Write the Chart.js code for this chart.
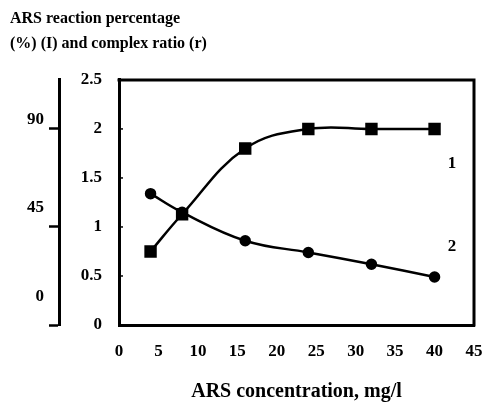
<!DOCTYPE html>
<html>
<head>
<meta charset="utf-8">
<script src="https://cdn.jsdelivr.net/npm/chart.js@4"></script>
<style>
  html, body { margin: 0; padding: 0; background: #fff; }
  #wrap { width: 487px; height: 409px; position: relative; }
</style>
</head>
<body>
<div id="wrap"><canvas id="chart"></canvas></div>
<script>
// ── Data ─────────────────────────────────
const concentration = [4, 8, 16, 24, 32, 40];           // ARS, mg/l
const reactionCurve = [0.75, 1.13, 1.8, 2.0, 2.0, 2.0]; // curve 1
const complexRatio  = [1.34, 1.15, 0.86, 0.74, 0.62, 0.49]; // curve 2
const xTicks        = [0, 5, 10, 15, 20, 25, 30, 35, 40, 45];
const ratioTicks    = [0, 0.5, 1, 1.5, 2, 2.5];
const percentTicks  = [0, 45, 90];
const curveNames    = ['1', '2'];
const curveNameAt   = [[42.2, 1.65], [42.2, 0.8]];      // in data units

const SERIF = '"Liberation Serif", "Times New Roman", serif';
const INK = '#000';

const toPoints = ys => concentration.map((x, i) => ({ x, y: ys[i] }));

// ── Frame + inner ticks + curve numbers ──
const framePlugin = {
    id: 'frame',
    afterDraw(chart) {
        const { ctx, chartArea: a, scales } = chart;
        ctx.save();
        ctx.strokeStyle = INK;
        ctx.lineWidth = 3;
        ctx.beginPath();
        ctx.moveTo(a.left - 1.5, a.top);
        ctx.lineTo(a.right, a.top);
        ctx.lineTo(a.right, a.bottom + 1.5);
        ctx.stroke();

        ctx.lineWidth = 1.5;
        ratioTicks.slice(1, -1).forEach(v => {
            const py = scales.y.getPixelForValue(v);
            ctx.beginPath();
            ctx.moveTo(a.left, py);
            ctx.lineTo(a.left + 4, py);
            ctx.stroke();
        });

        ctx.fillStyle = INK;
        ctx.font = 'bold 17px ' + SERIF;
        ctx.textAlign = 'center';
        ctx.textBaseline = 'middle';
        curveNames.forEach((t, i) => {
            const [vx, vy] = curveNameAt[i];
            ctx.fillText(t, scales.x.getPixelForValue(vx), scales.y.getPixelForValue(vy));
        });
        ctx.restore();
    }
};

const lineStyle = {
    borderColor: INK,
    backgroundColor: INK,
    borderWidth: 2.5,
    pointBackgroundColor: INK,
    pointBorderColor: INK,
    tension: 0.4,
    fill: false
};

const tickFont = { family: SERIF, size: 17, weight: 'bold' };

// labels on the outer % axis sit above their tick marks, more so lower down
const percentLabel = v => [String(v)].concat(Array(percentTicks.length - percentTicks.indexOf(v)).fill(''));

new Chart(document.getElementById('chart'), {
    type: 'line',
    data: {
        datasets: [
            { ...lineStyle, label: '1', data: toPoints(reactionCurve), pointStyle: 'rect', pointRadius: 7 },
            { ...lineStyle, label: '2', data: toPoints(complexRatio),  pointStyle: 'circle', pointRadius: 4.5 }
        ]
    },
    options: {
        responsive: true,
        maintainAspectRatio: false,
        devicePixelRatio: 1,
        animation: false,
        layout: { padding: { left: 10, right: 0, top: 0, bottom: 0 } },
        plugins: {
            legend: { display: false },
            tooltip: { enabled: false },
            title: {
                display: true,
                align: 'start',
                text: ['ARS reaction percentage', '(%) (I) and complex ratio (r)'],
                color: INK,
                font: { family: SERIF, size: 16, weight: 'bold', lineHeight: 1.56 },
                padding: { top: 6.5, bottom: 23.5 }
            }
        },
        scales: {
            x: {
                type: 'linear',
                position: 'bottom',
                min: 0, max: 45,
                afterBuildTicks: s => { s.ticks = xTicks.map(v => ({ value: v })); },
                afterFit: s => { s.height = 84; s.paddingRight = 13; },
                grid: { drawOnChartArea: false, drawTicks: false },
                border: { display: true, color: INK, width: 3 },
                ticks: { color: INK, padding: 16, font: tickFont },
                title: {
                    display: true,
                    text: 'ARS concentration, mg/l',
                    color: INK,
                    font: { family: SERIF, size: 20, weight: 'bold' },
                    padding: { top: 0, bottom: 5 }
                }
            },
            y: {
                type: 'linear',
                position: 'left',
                weight: 0,
                min: 0, max: 2.5,
                afterBuildTicks: s => { s.ticks = ratioTicks.map(v => ({ value: v })); },
                afterFit: s => { s.width = 60; },
                grid: { drawOnChartArea: false, drawTicks: false },
                border: { display: true, color: INK, width: 3 },
                ticks: { color: INK, padding: 17, font: tickFont, callback: v => String(v) }
            },
            y2: {
                type: 'linear',
                position: 'left',
                weight: 1,
                min: 0, max: 112.5,
                afterBuildTicks: s => { s.ticks = percentTicks.map(v => ({ value: v })); },
                afterFit: s => { s.width = 49; },
                grid: { drawOnChartArea: false, drawTicks: true, tickLength: 10, tickWidth: 2.5, tickColor: INK },
                border: { display: true, color: INK, width: 3 },
                ticks: {
                    color: INK, padding: 5,
                    font: { ...tickFont, lineHeight: '19px' },
                    callback: percentLabel
                }
            }
        }
    },
    plugins: [framePlugin]
});
</script>
</body>
</html>
